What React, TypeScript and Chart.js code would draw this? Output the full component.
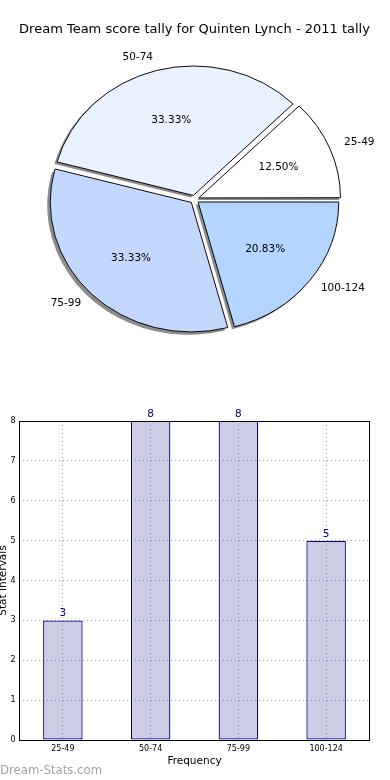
import React, { useEffect, useRef } from 'react';
import { Chart, registerables } from 'chart.js';

Chart.register(...registerables);

// ---------- data ----------
const TITLE = 'Dream Team score tally for Quinten Lynch - 2011 tally';
const CATEGORIES = ['25-49', '50-74', '75-99', '100-124'];
const COUNTS = [3, 8, 8, 5];
const PIE_COLORS = ['#ffffff', '#eaf1ff', '#c4d8ff', '#b3d5ff'];
const Y_MAX = 8;
const Y_STEP = 1;
const X_AXIS_TITLE = 'Frequency';
const Y_AXIS_TITLE = 'Stat Intervals';
const WATERMARK = 'Dream-Stats.com';

// ---------- style ----------
const FONT = "'DejaVu Sans', 'Liberation Sans', sans-serif";
const Y_SQUASH = 0.918; // pie is drawn as an ellipse like the original
const BAR_FILL = '#cdcde6';
const BAR_EDGE = '#000080';
const GRID = 'rgba(0,0,0,0.36)';

Chart.defaults.font.family = FONT;

function arcGeom(arc: any) {
  const p = arc.getProps(['x', 'y', 'startAngle', 'endAngle', 'outerRadius', 'circumference']);
  const off = (arc.options.offset || 0) / 4;
  const circ = p.circumference ?? p.endAngle - p.startAngle;
  const fix = 1 - Math.sin(Math.min(Math.PI, circ));
  const m = (p.startAngle + p.endAngle) / 2;
  const t = off * (1 + fix);
  return {
    cx: p.x + Math.cos(m) * t,
    cy: p.y + Math.sin(m) * t,
    r: p.outerRadius + off * fix,
    m,
    start: p.startAngle,
    end: p.endAngle,
  };
}

const pieDecor = {
  id: 'pieDecor',
  beforeDatasetsDraw(chart: any) {
    const ctx = chart.ctx;
    const a = chart.chartArea;
    const cy = (a.top + a.bottom) / 2;
    const meta = chart.getDatasetMeta(0);
    // shadows
    ctx.save();
    ctx.translate(-2.5, 2.5);
    ctx.translate(0, cy);
    ctx.scale(1, Y_SQUASH);
    ctx.translate(0, -cy);
    ctx.fillStyle = 'rgba(0,0,0,0.45)';
    meta.data.forEach((arc: any) => {
      const g = arcGeom(arc);
      ctx.beginPath();
      ctx.moveTo(g.cx, g.cy);
      ctx.arc(g.cx, g.cy, g.r, g.start, g.end);
      ctx.closePath();
      ctx.fill();
    });
    ctx.restore();
    // squash the slices
    ctx.save();
    ctx.translate(0, cy);
    ctx.scale(1, Y_SQUASH);
    ctx.translate(0, -cy);
  },
  afterDatasetsDraw(chart: any) {
    const ctx = chart.ctx;
    ctx.restore();
    const a = chart.chartArea;
    const cyc = (a.top + a.bottom) / 2;
    const meta = chart.getDatasetMeta(0);
    const data: number[] = chart.data.datasets[0].data;
    const total = data.reduce((s, v) => s + v, 0);
    ctx.save();
    ctx.fillStyle = '#000';
    ctx.font = `10.5px ${FONT}`;
    ctx.textBaseline = 'middle';
    meta.data.forEach((arc: any, i: number) => {
      const g = arcGeom(arc);
      const c = Math.cos(g.m);
      const s = Math.sin(g.m);
      const mapY = (y: number) => cyc + (y - cyc) * Y_SQUASH;
      // outer label
      const lx = g.cx + 1.1 * g.r * c;
      const ly = mapY(g.cy + 1.1 * g.r * s);
      ctx.textAlign = c > 0 ? 'left' : 'right';
      ctx.fillText(chart.data.labels[i], lx, ly);
      // percentage
      const px = g.cx + 0.6 * g.r * c;
      const py = mapY(g.cy + 0.6 * g.r * s);
      ctx.textAlign = 'center';
      ctx.fillText(((data[i] / total) * 100).toFixed(2) + '%', px, py);
    });
    ctx.restore();
  },
};

const barDecor = {
  id: 'barDecor',
  afterDraw(chart: any) {
    const ctx = chart.ctx;
    const a = chart.chartArea;
    ctx.save();
    // frame
    ctx.strokeStyle = '#000';
    ctx.lineWidth = 1;
    ctx.strokeRect(a.left + 0.5, a.top + 0.5, a.right - a.left - 1, a.bottom - a.top);
    // value labels
    const meta = chart.getDatasetMeta(0);
    const data: number[] = chart.data.datasets[0].data;
    ctx.fillStyle = BAR_EDGE;
    ctx.font = `10.5px ${FONT}`;
    ctx.textAlign = 'center';
    ctx.textBaseline = 'alphabetic';
    meta.data.forEach((bar: any, i: number) => {
      ctx.fillText(String(data[i]), bar.x, bar.y - 4);
    });
    // watermark
    ctx.fillStyle = '#a3a3a3';
    ctx.font = `11.7px ${FONT}`;
    ctx.textAlign = 'left';
    ctx.textBaseline = 'middle';
    ctx.fillText(WATERMARK, 0, chart.height - 9);
    ctx.restore();
  },
};

export default function App() {
  const pieRef = useRef<HTMLCanvasElement>(null);
  const barRef = useRef<HTMLCanvasElement>(null);

  useEffect(() => {
    const pieOrder = [...CATEGORIES.keys()].reverse(); // matplotlib draws counter-clockwise
    const pie = new Chart(pieRef.current!, {
      type: 'pie',
      data: {
        labels: pieOrder.map((i) => CATEGORIES[i]),
        datasets: [
          {
            data: pieOrder.map((i) => COUNTS[i]),
            backgroundColor: pieOrder.map((i) => PIE_COLORS[i]),
            borderColor: '#000',
            borderWidth: 1,
            offset: 18,
            hoverOffset: 0,
            radius: 140.5,
          } as any,
        ],
      },
      options: {
        animation: false,
        responsive: false,
        events: [],
        rotation: 90,
        radius: 140.5,
        layout: { padding: { left: 0, right: 1, top: 0, bottom: 38.6 } },
        plugins: {
          legend: { display: false },
          tooltip: { enabled: false },
          title: {
            display: true,
            text: TITLE,
            color: '#000',
            font: { size: 13, weight: 'normal' as any, family: FONT },
            padding: { top: 22, bottom: 10 },
          },
        },
      } as any,
      plugins: [pieDecor],
    });

    const grid = { offset: false, color: GRID, lineWidth: 1, drawTicks: false, z: 1 };
    const bar = new Chart(barRef.current!, {
      type: 'bar',
      data: {
        labels: CATEGORIES,
        datasets: [
          {
            data: COUNTS,
            backgroundColor: BAR_FILL,
            borderColor: BAR_EDGE,
            borderWidth: 1.25,
            borderSkipped: false,
            categoryPercentage: 1,
            barPercentage: 0.45,
          },
        ],
      },
      options: {
        animation: false,
        responsive: false,
        events: [],
        layout: { padding: { left: 0, right: 20, top: 31, bottom: 10 } },
        plugins: { legend: { display: false }, tooltip: { enabled: false } },
        scales: {
          x: {
            grid,
            border: { display: false, dash: [1, 3] },
            ticks: { font: { size: 8 }, color: '#000', padding: 4.5, maxRotation: 0, autoSkip: false },
            title: {
              display: true,
              text: X_AXIS_TITLE,
              color: '#000',
              font: { size: 10.5 },
              padding: { top: 0, bottom: 2 },
            },
            afterFit(s: any) {
              s.height = 30;
            },
          },
          y: {
            min: 0,
            max: Y_MAX,
            grid,
            border: { display: false, dash: [1, 3] },
            ticks: { stepSize: Y_STEP, font: { size: 8 }, color: '#000', padding: 3.5 },
            title: {
              display: true,
              text: Y_AXIS_TITLE,
              color: '#000',
              font: { size: 10.5 },
              padding: { top: -3, bottom: 0 },
            },
            afterFit(s: any) {
              s.width = 19;
            },
          },
        },
      } as any,
      plugins: [barDecor],
    });

    return () => {
      pie.destroy();
      bar.destroy();
    };
  }, []);

  return (
    <div style={{ position: 'absolute', left: 0, top: 0, width: 390, height: 780, background: '#fff' }}>
      <canvas
        ref={pieRef}
        width={390}
        height={390}
        style={{ position: 'absolute', left: 0, top: 0, display: 'block' }}
      />
      <canvas
        ref={barRef}
        width={390}
        height={390}
        style={{ position: 'absolute', left: 0, top: 390, display: 'block' }}
      />
    </div>
  );
}
